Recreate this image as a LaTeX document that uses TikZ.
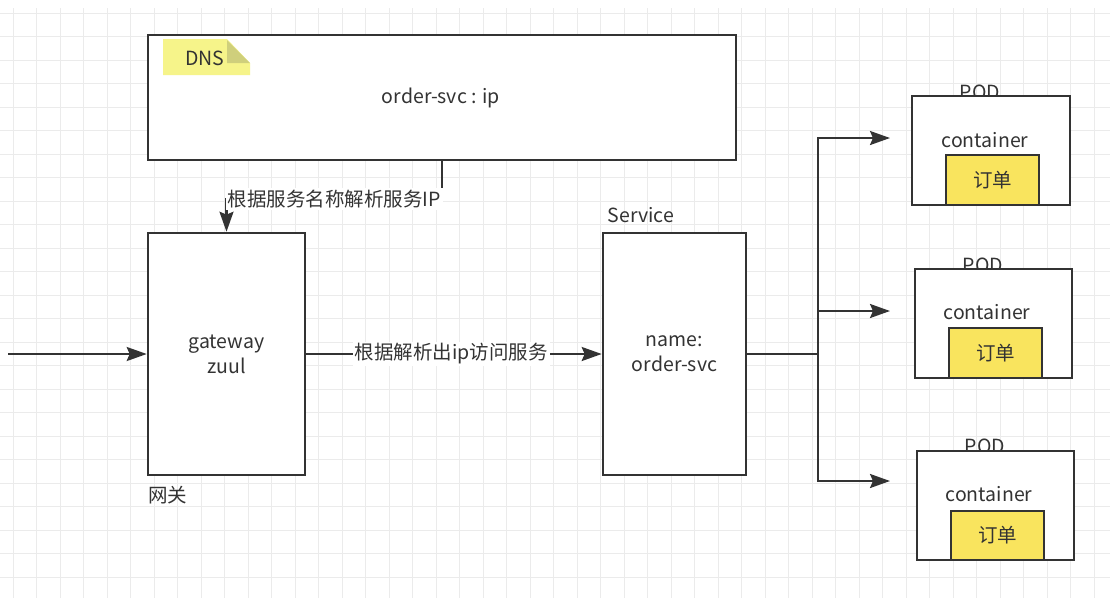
\documentclass[tikz,border=0pt]{standalone}
\usepackage{fontspec}
\setmainfont{Noto Sans CJK SC}
\usepackage{tikz}
\usetikzlibrary{arrows.meta,positioning,calc}

\definecolor{ink}{HTML}{333333}
\definecolor{gridc}{HTML}{EBEBEB}
\definecolor{orderc}{HTML}{F9E45E}
\definecolor{notec}{HTML}{F6F48A}
\definecolor{foldc}{HTML}{CFCF7C}

\begin{document}
\begin{tikzpicture}[x=1pt, y=-1pt,
  font=\fontsize{19.5}{25}\selectfont,
  box/.style={draw=ink, line width=2.6pt, fill=white, text=ink, align=center, inner sep=0pt},
  orderbox/.style={box, fill=orderc},
  lbl/.style={text=ink, inner sep=1pt},
  edgelbl/.style={lbl, fill=white, inner sep=2pt},
  arrow/.style={-{Stealth[length=20pt, width=14pt, inset=3pt]}, line width=2.2pt, draw=ink},
  line/.style={line width=2.2pt, draw=ink}
]
\useasboundingbox (0,0) rectangle (1110,598);
\fill[white] (0,0) rectangle (1110,598);
% background grid
\foreach \k in {0,...,46} {
  \pgfmathsetmacro{\gx}{13+23.5*\k}
  \draw[gridc, line width=1pt] (\gx,8) -- (\gx,598);
}
\foreach \k in {0,...,24} {
  \pgfmathsetmacro{\gy}{13+23.5*\k}
  \draw[gridc, line width=1pt] (0,\gy) -- (1110,\gy);
}

% DNS
\node[box, minimum width=588pt, minimum height=125pt] (dns) at (442,97.5) {};
\node[lbl] (dnsip) at (441,98) {order-svc : ip};
\fill[notec] (163,39) -- (227,39) -- (250,63) -- (250,75) -- (163,75) -- cycle;
\fill[foldc] (227,40) -- (250,63) -- (227,63) -- cycle;
\node[lbl] (dnstag) at (205,58) {DNS};

% gateway
\node[box, minimum width=157pt, minimum height=242pt] (gw) at (226.5,354) {gateway\\zuul};
\node[lbl, anchor=west] (gwname) at (147,495) {网关};

% service
\node[box, minimum width=143pt, minimum height=242pt] (svc) at (674.5,354) {name:\\order-svc};
\node[lbl] (svcname) at (641,215) {Service};

% pods
\node[lbl] (podname1) at (980,92) {POD};
\node[lbl] (podname2) at (983,265) {POD};
\node[lbl] (podname3) at (985,446) {POD};
\node[box, minimum width=158pt, minimum height=109pt] (pod1) at (991,150.5) {};
\node[box, minimum width=157pt, minimum height=109pt] (pod2) at (993.5,323.5) {};
\node[box, minimum width=157pt, minimum height=109pt] (pod3) at (995.5,505.5) {};
\node[lbl] (ctr1) at (985,140) {container};
\node[lbl] (ctr2) at (987,312) {container};
\node[lbl] (ctr3) at (989,494) {container};
\node[orderbox, minimum width=93pt, minimum height=50pt] (ord1) at (992.5,180) {订单};
\node[orderbox, minimum width=93pt, minimum height=50pt] (ord2) at (995.5,353) {订单};
\node[orderbox, minimum width=93pt, minimum height=49pt] (ord3) at (997.5,535.5) {订单};

% connectors
\coordinate (entry) at (8,354);
\coordinate (split) at (818,354);
\coordinate (to1) at (890,138);
\coordinate (to2) at (890,311);
\coordinate (to3) at (890,481);
\draw[arrow] (entry) -- (gw.west);
\draw[arrow] (dns.south) |- node[edgelbl, pos=0.75] {根据服务名称解析服务IP} ($(gw.north)+(0,-33)$) -- (gw.north);
\draw[arrow] (gw) -- node[edgelbl, pos=0.49] {根据解析出ip访问服务} (svc);
\draw[line] (svc.east) -- (split);
\draw[arrow] (split) |- (to1);
\draw[arrow] (split) |- (to2);
\draw[arrow] (split) |- (to3);
\end{tikzpicture}
\end{document}
